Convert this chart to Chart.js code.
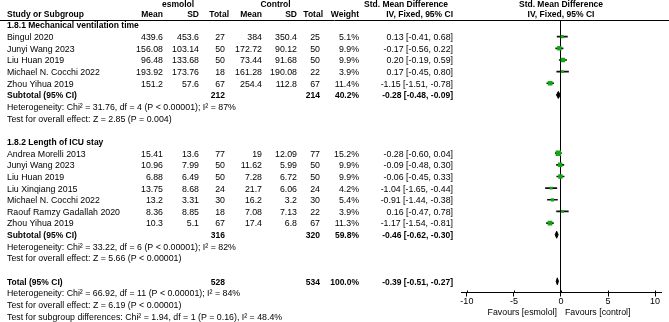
<!DOCTYPE html>
<html><head><meta charset="utf-8">
<script src="https://cdn.jsdelivr.net/npm/chart.js@4"></script>
<style>html,body{margin:0;padding:0;background:#fff;overflow:hidden}canvas{display:block}</style>
</head><body>
<canvas id="c" width="669" height="322"></canvas>
<script>
// ---------- DATA ----------
const groupNames = ['1.8.1 Mechanical ventilation time', '1.8.2 Length of ICU stay'];

const studies1 = ['Bingul 2020','Junyi Wang 2023','Liu Huan 2019','Michael N. Cocchi 2022','Zhou Yihua 2019'];
const esmMean1 = [439.6,156.08,96.48,193.92,151.2];
const esmSD1   = [453.6,103.14,133.68,173.76,57.6];
const esmN1    = [27,50,50,18,67];
const ctlMean1 = [384,172.72,73.44,161.28,254.4];
const ctlSD1   = [350.4,90.12,91.68,190.08,112.8];
const ctlN1    = [25,50,50,22,67];
const weight1  = [5.1,9.9,9.9,3.9,11.4];
const smd1     = [0.13,-0.17,0.20,0.17,-1.15];
const lo1      = [-0.41,-0.56,-0.19,-0.45,-1.51];
const hi1      = [0.68,0.22,0.59,0.80,-0.78];
const sub1     = {esmN:212, ctlN:214, weight:40.2, smd:-0.28, lo:-0.48, hi:-0.09};
const het1  = 'Heterogeneity: Chi\u00b2 = 31.76, df = 4 (P < 0.00001); I\u00b2 = 87%';
const test1 = 'Test for overall effect: Z = 2.85 (P = 0.004)';

const studies2 = ['Andrea Morelli 2013','Junyi Wang 2023','Liu Huan 2019','Liu Xinqiang 2015','Michael N. Cocchi 2022','Raouf Ramzy Gadallah 2020','Zhou Yihua 2019'];
const esmMean2 = [15.41,10.96,6.88,13.75,13.2,8.36,10.3];
const esmSD2   = [13.6,7.99,6.49,8.68,3.31,8.85,5.1];
const esmN2    = [77,50,50,24,30,18,67];
const ctlMean2 = [19,11.62,7.28,21.7,16.2,7.08,17.4];
const ctlSD2   = [12.09,5.99,6.72,6.06,3.2,7.13,6.8];
const ctlN2    = [77,50,50,24,30,22,67];
const weight2  = [15.2,9.9,9.9,4.2,5.4,3.9,11.3];
const smd2     = [-0.28,-0.09,-0.06,-1.04,-0.91,0.16,-1.17];
const lo2      = [-0.60,-0.48,-0.45,-1.65,-1.44,-0.47,-1.54];
const hi2      = [0.04,0.30,0.33,-0.44,-0.38,0.78,-0.81];
const sub2     = {esmN:316, ctlN:320, weight:59.8, smd:-0.46, lo:-0.62, hi:-0.30};
const het2  = 'Heterogeneity: Chi\u00b2 = 33.22, df = 6 (P < 0.00001); I\u00b2 = 82%';
const test2 = 'Test for overall effect: Z = 5.66 (P < 0.00001)';

const total    = {esmN:528, ctlN:534, weight:100.0, smd:-0.39, lo:-0.51, hi:-0.27};
const hetT  = 'Heterogeneity: Chi\u00b2 = 66.92, df = 11 (P < 0.00001); I\u00b2 = 84%';
const testT = 'Test for overall effect: Z = 6.19 (P < 0.00001)';
const testSub = 'Test for subgroup differences: Chi\u00b2 = 1.94, df = 1 (P = 0.16), I\u00b2 = 48.4%';

const tickValues = [-10,-5,0,5,10];
const favoursLeft = 'Favours [esmolol]';
const favoursRight = 'Favours [control]';

// ---------- BUILD ROWS ----------
const groups = [
  {name:groupNames[0], studies:studies1, eM:esmMean1, eS:esmSD1, eN:esmN1, cM:ctlMean1, cS:ctlSD1, cN:ctlN1, w:weight1, smd:smd1, lo:lo1, hi:hi1, sub:sub1, het:het1, test:test1},
  {name:groupNames[1], studies:studies2, eM:esmMean2, eS:esmSD2, eN:esmN2, cM:ctlMean2, cS:ctlSD2, cN:ctlN2, w:weight2, smd:smd2, lo:lo2, hi:hi2, sub:sub2, het:het2, test:test2}
];
const rows = [];
const pts = [];
const summaries = [];
let r = 0;
groups.forEach((g, gi) => {
  rows.push({kind:'group', r:r++, text:g.name});
  g.studies.forEach((s, i) => {
    rows.push({kind:'study', r:r, text:s, eM:g.eM[i], eS:g.eS[i], eN:g.eN[i], cM:g.cM[i], cS:g.cS[i], cN:g.cN[i], w:g.w[i], smd:g.smd[i], lo:g.lo[i], hi:g.hi[i]});
    pts.push({r:r, w:g.w[i], smd:g.smd[i], lo:g.lo[i], hi:g.hi[i]});
    r++;
  });
  rows.push(Object.assign({kind:'sub', r:r, text:'Subtotal (95% CI)'}, g.sub));
  summaries.push(Object.assign({r:r}, g.sub));
  r++;
  rows.push({kind:'note', r:r++, text:g.het});
  rows.push({kind:'note', r:r++, text:g.test});
  r++;
});
rows.push(Object.assign({kind:'sub', r:r, text:'Total (95% CI)'}, total));
summaries.push(Object.assign({r:r}, total));
r++;
rows.push({kind:'note', r:r++, text:hetT});
rows.push({kind:'note', r:r++, text:testT});
rows.push({kind:'note', r:r++, text:testSub});

// ---------- STYLE ----------
const FONT = '"Liberation Sans", Arial, sans-serif';
const GREEN = '#12a812';
const COL = {study:7, eMean:163, eSD:199, eN:225, cMean:262, cSD:297, cN:320, w:359, ci:453};
const ciText = (e,l,h) => e.toFixed(2) + ' [' + l.toFixed(2) + ', ' + h.toFixed(2) + ']';

const tablePlugin = {
  id:'table',
  afterDraw(chart){
    const ctx = chart.ctx, ys = chart.scales.y, xs = chart.scales.x;
    const Y = v => ys.getPixelForValue(v) + 1;
    ctx.save();
    ctx.fillStyle = '#000';
    ctx.textBaseline = 'middle';
    const txt = (s, x, y, align, bold) => {
      ctx.font = (bold ? 'bold 8.5px ' : '8.8px ') + FONT;
      ctx.textAlign = align; ctx.fillText(s, x, y);
    };
    // header
    const h1 = 4.8, h2 = 15;
    txt('esmolol', 178, h1, 'center', true);
    txt('Control', 275.5, h1, 'center', true);
    txt('Std. Mean Difference', 364, h1, 'left', true);
    txt('Std. Mean Difference', xs.getPixelForValue(0), h1, 'center', true);
    txt('Study or Subgroup', COL.study, h2, 'left', true);
    txt('Mean', COL.eMean, h2, 'right', true);
    txt('SD', COL.eSD, h2, 'right', true);
    txt('Total', COL.eN + 4, h2, 'right', true);
    txt('Mean', COL.cMean, h2, 'right', true);
    txt('SD', COL.cSD, h2, 'right', true);
    txt('Total', COL.cN + 3, h2, 'right', true);
    txt('Weight', COL.w, h2, 'right', true);
    txt('IV, Fixed, 95% CI', COL.ci, h2, 'right', true);
    txt('IV, Fixed, 95% CI', xs.getPixelForValue(0), h2, 'center', true);
    // header rule
    const top = Math.round(chart.chartArea.top) + 0.5;
    ctx.strokeStyle = '#000'; ctx.lineWidth = 1;
    ctx.beginPath(); ctx.moveTo(0, top); ctx.lineTo(669, top); ctx.stroke();
    // tick marks crossing slightly above the axis line
    const bot = chart.chartArea.bottom;
    ctx.beginPath();
    tickValues.forEach(v => {
      const px = Math.round(xs.getPixelForValue(v)) + 0.5;
      ctx.moveTo(px, bot - 2); ctx.lineTo(px, bot);
    });
    ctx.stroke();
    // rows
    rows.forEach(row => {
      const y = Y(row.r);
      if (row.kind === 'group') txt(row.text, COL.study, y, 'left', true);
      else if (row.kind === 'note') txt(row.text, COL.study, y, 'left', false);
      else if (row.kind === 'study') {
        txt(row.text, COL.study, y, 'left', false);
        txt(String(row.eM), COL.eMean, y, 'right', false);
        txt(String(row.eS), COL.eSD, y, 'right', false);
        txt(String(row.eN), COL.eN, y, 'right', false);
        txt(String(row.cM), COL.cMean, y, 'right', false);
        txt(String(row.cS), COL.cSD, y, 'right', false);
        txt(String(row.cN), COL.cN, y, 'right', false);
        txt(row.w.toFixed(1) + '%', COL.w, y, 'right', false);
        txt(ciText(row.smd, row.lo, row.hi), COL.ci, y, 'right', false);
      } else if (row.kind === 'sub') {
        txt(row.text, COL.study, y, 'left', true);
        txt(String(row.esmN), COL.eN, y, 'right', true);
        txt(String(row.ctlN), COL.cN, y, 'right', true);
        txt(row.weight.toFixed(1) + '%', COL.w, y, 'right', true);
        txt(ciText(row.smd, row.lo, row.hi), COL.ci, y, 'right', true);
      }
    });
    // favours labels
    const fy = chart.chartArea.bottom + 20.5;
    const x0 = xs.getPixelForValue(0);
    txt(favoursLeft, x0 - 4, fy, 'right', false);
    txt(favoursRight, x0 + 4, fy, 'left', false);
    ctx.restore();
  }
};

// ---------- DATASETS ----------
const ciDataset = {
  type:'bar', indexAxis:'y', grouped:false,
  data: pts.map(p => ({y:p.r, x:[p.lo, p.hi]})),
  backgroundColor:'#111', borderWidth:0, barThickness:1, order:2
};
const squareDataset = {
  type:'scatter',
  data: pts.map(p => ({x:p.smd, y:p.r})),
  pointStyle:'rect', backgroundColor:GREEN, borderWidth:0,
  pointRadius: pts.map(p => 1.4 * Math.sqrt(p.w) / Math.SQRT2),
  order:1
};
const HALF = 0.3;
const diamondDatasets = summaries.map(s => ({
  type:'scatter', showLine:true, fill:'shape', tension:0,
  data:[{x:s.lo,y:s.r},{x:s.smd,y:s.r-HALF},{x:s.hi,y:s.r},{x:s.smd,y:s.r+HALF},{x:s.lo,y:s.r}],
  backgroundColor:'#000', borderColor:'#000', borderWidth:1, pointRadius:0, order:0
}));

new Chart(document.getElementById('c'), {
  type:'scatter',
  data:{datasets:[ciDataset, squareDataset, ...diamondDatasets]},
  options:{
    responsive:false, animation:false, devicePixelRatio:1, events:[],
    layout:{padding:{left:461.7, right:7.3, top:20, bottom:14.7}},
    plugins:{legend:{display:false}, tooltip:{enabled:false}, title:{display:false}},
    scales:{
      x:{
        type:'linear', min:-10.55, max:10.7, offset:false, beginAtZero:false,
        afterBuildTicks: a => { a.ticks = tickValues.map(v => ({value:v})); },
        grid:{offset:false, drawOnChartArea:true, color: c => (c.tick && c.tick.value === 0) ? '#000' : 'rgba(0,0,0,0)', tickColor:'#000', tickLength:4, lineWidth:1},
        border:{display:true, color:'#000', width:1},
        ticks:{color:'#000', padding:0, autoSkip:false, maxRotation:0, font:{family:FONT, size:9}, callback: v => String(v)}
      },
      y:{type:'linear', display:false, reverse:true, offset:false, grid:{offset:false}, min:-0.43, max:22.96}
    }
  },
  plugins:[tablePlugin]
});
</script>
</body></html>
